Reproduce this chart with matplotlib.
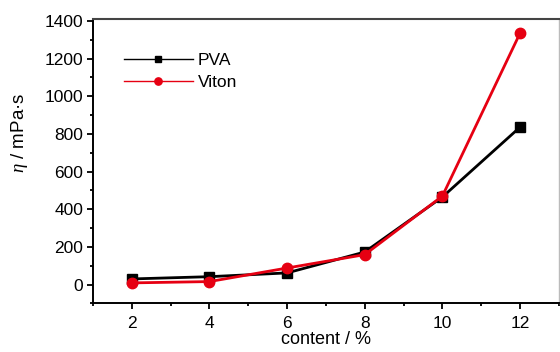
import numpy as np
import matplotlib.pyplot as plt
from matplotlib.ticker import MultipleLocator

plt.rcParams["font.family"] = ["Liberation Sans", "DejaVu Sans"]
plt.rcParams["mathtext.fontset"] = "custom"
plt.rcParams["mathtext.it"] = "Liberation Serif:italic"

content = [2, 4, 6, 8, 10, 12]
pva   = [30, 42, 62, 173, 465, 836]
viton = [9, 16, 88, 159, 470, 1335]

fs = 12.5

fig = plt.figure(figsize=(5.6, 3.52), dpi=100)
ax = fig.add_axes([0.166, 0.138, 0.832, 0.808])

ax.plot(content, pva, '-', color="black", lw=2, marker='s', ms=6.5, label="PVA")
ax.plot(content, viton, '-', color="#e60012", lw=2, marker='o', ms=7.5, label="Viton")

ax.set_xlim(1, 13)
ax.set_ylim(-100, 1410)
ax.xaxis.set_major_locator(MultipleLocator(2))
ax.xaxis.set_minor_locator(MultipleLocator(1))
ax.yaxis.set_minor_locator(MultipleLocator(100))
ax.set_yticks(np.arange(0, 1401, 200))

ax.tick_params(which="both", direction="out", top=False, right=False,
               labelsize=fs, width=1.3, colors="black")
ax.tick_params(axis="x", pad=4.5)
ax.tick_params(axis="y", pad=2.5)
ax.tick_params(which="major", length=4.5)
ax.tick_params(which="minor", length=2.5)

for s in ["left", "bottom"]:
    ax.spines[s].set_linewidth(1.4)
ax.spines["top"].set_linewidth(1.5)
ax.spines["top"].set_color("#444444")
ax.spines["right"].set_linewidth(1.0)
ax.spines["right"].set_color("#bbbbbb")

ax.set_xlabel("content / %", fontsize=fs + 0.5, labelpad=0)
ax.set_ylabel(r"$\it{\eta}$ / mPa·s", fontsize=fs + 1)
ax.yaxis.set_label_coords(-0.135, 0.6)

leg = ax.legend(loc="upper left", bbox_to_anchor=(0.066, 0.882), frameon=False,
                fontsize=fs, handlelength=4.0, handletextpad=0.25,
                labelspacing=0.4, borderaxespad=0, borderpad=0, markerscale=0.7)
for ln in leg.get_lines():
    ln.set_linewidth(1.0)

fig.savefig("out.png", dpi=100)
